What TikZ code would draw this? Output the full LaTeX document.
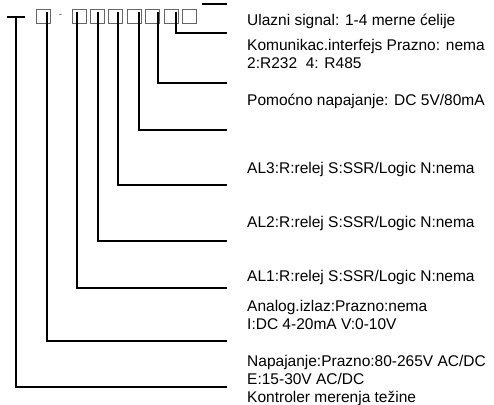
\documentclass[tikz,border=0pt]{standalone}
\usepackage{fontspec}
\setmainfont{Liberation Sans}
\usetikzlibrary{positioning}

\tikzset{
  codebox/.style={draw=black!60,line width=0.8pt,minimum width=14pt,minimum height=14pt,inner sep=0pt},
  conn/.style={line width=2pt},
  lbl/.style={anchor=base west,inner sep=0pt,align=left,font=\fontsize{15.5}{18}\selectfont}
}

\begin{document}
\begin{tikzpicture}[x=1pt,y=-1pt]
	\useasboundingbox (0,0) rectangle (494,404);

	% code boxes
	\node[codebox] (b0) at (43.5,16) {};
	\node[inner sep=0pt,font=\fontsize{10}{12}\selectfont,text=black!70] (dash) at (60.5,16) {-};
	\node[codebox] (b1) at (79,16) {};
	\node[codebox,right=3.6pt of b1] (b2) {};
	\node[codebox,right=3.6pt of b2] (b3) {};
	\node[codebox,right=3.6pt of b3] (b4) {};
	\node[codebox,right=3.6pt of b4] (b5) {};
	\node[codebox,right=3.6pt of b5] (b6) {};
	\node[codebox,right=3.6pt of b6] (b7) {};

	% labels (base = last line)
	\node[lbl] (ulazni) at (247,25.5) {Ulazni signal: 1-4 merne ćelije};
	\node[lbl] (komunik) at (247,68.5) {Komunikac.interfejs Prazno: nema\\2:R232\ \ 4: R485};
	\node[lbl] (pomocno) at (247,105.5) {Pomoćno napajanje: DC 5V/80mA};
	\node[lbl] (al3) at (247,173.5) {AL3:R:relej S:SSR/Logic N:nema};
	\node[lbl] (al2) at (247,227.5) {AL2:R:relej S:SSR/Logic N:nema};
	\node[lbl] (al1) at (247,281.5) {AL1:R:relej S:SSR/Logic N:nema};
	\node[lbl] (analog) at (247,329.5) {Analog.izlaz:Prazno:nema\\I:DC 4-20mA V:0-10V};
	\node[lbl] (napaj) at (247,384.5) {Napajanje:Prazno:80-265V AC/DC\\E:15-30V AC/DC};
	\node[lbl] (kontroler) at (247,402.5) {Kontroler merenja težine};

	% line ends
	\coordinate (top0) at (202,4);
	\coordinate (top1) at (227,4);
	\coordinate (c6) at (227,33);
	\coordinate (c5) at (227,83);
	\coordinate (c4) at (227,130);
	\coordinate (c3) at (227,185);
	\coordinate (c2) at (227,241);
	\coordinate (c1) at (227,288);
	\coordinate (c0) at (227,341);
	\coordinate (root) at (16,17);
	\coordinate (croot) at (227,387);

	\draw[conn] (top0) -- (top1);
	\draw[conn] (7,17) -- (25,17);
	\draw[conn] (root) |- (croot);
	\foreach \b/\dx/\c in {b0/3.5/c0,b1/-2/c1,b2/0.4/c2,b3/1.8/c3,b4/5.2/c4,b5/5.6/c5,b6/5/c6}
		\draw[conn] ([xshift=\dx pt,yshift=-3pt]\b.north) |- (\c);
\end{tikzpicture}
\end{document}
